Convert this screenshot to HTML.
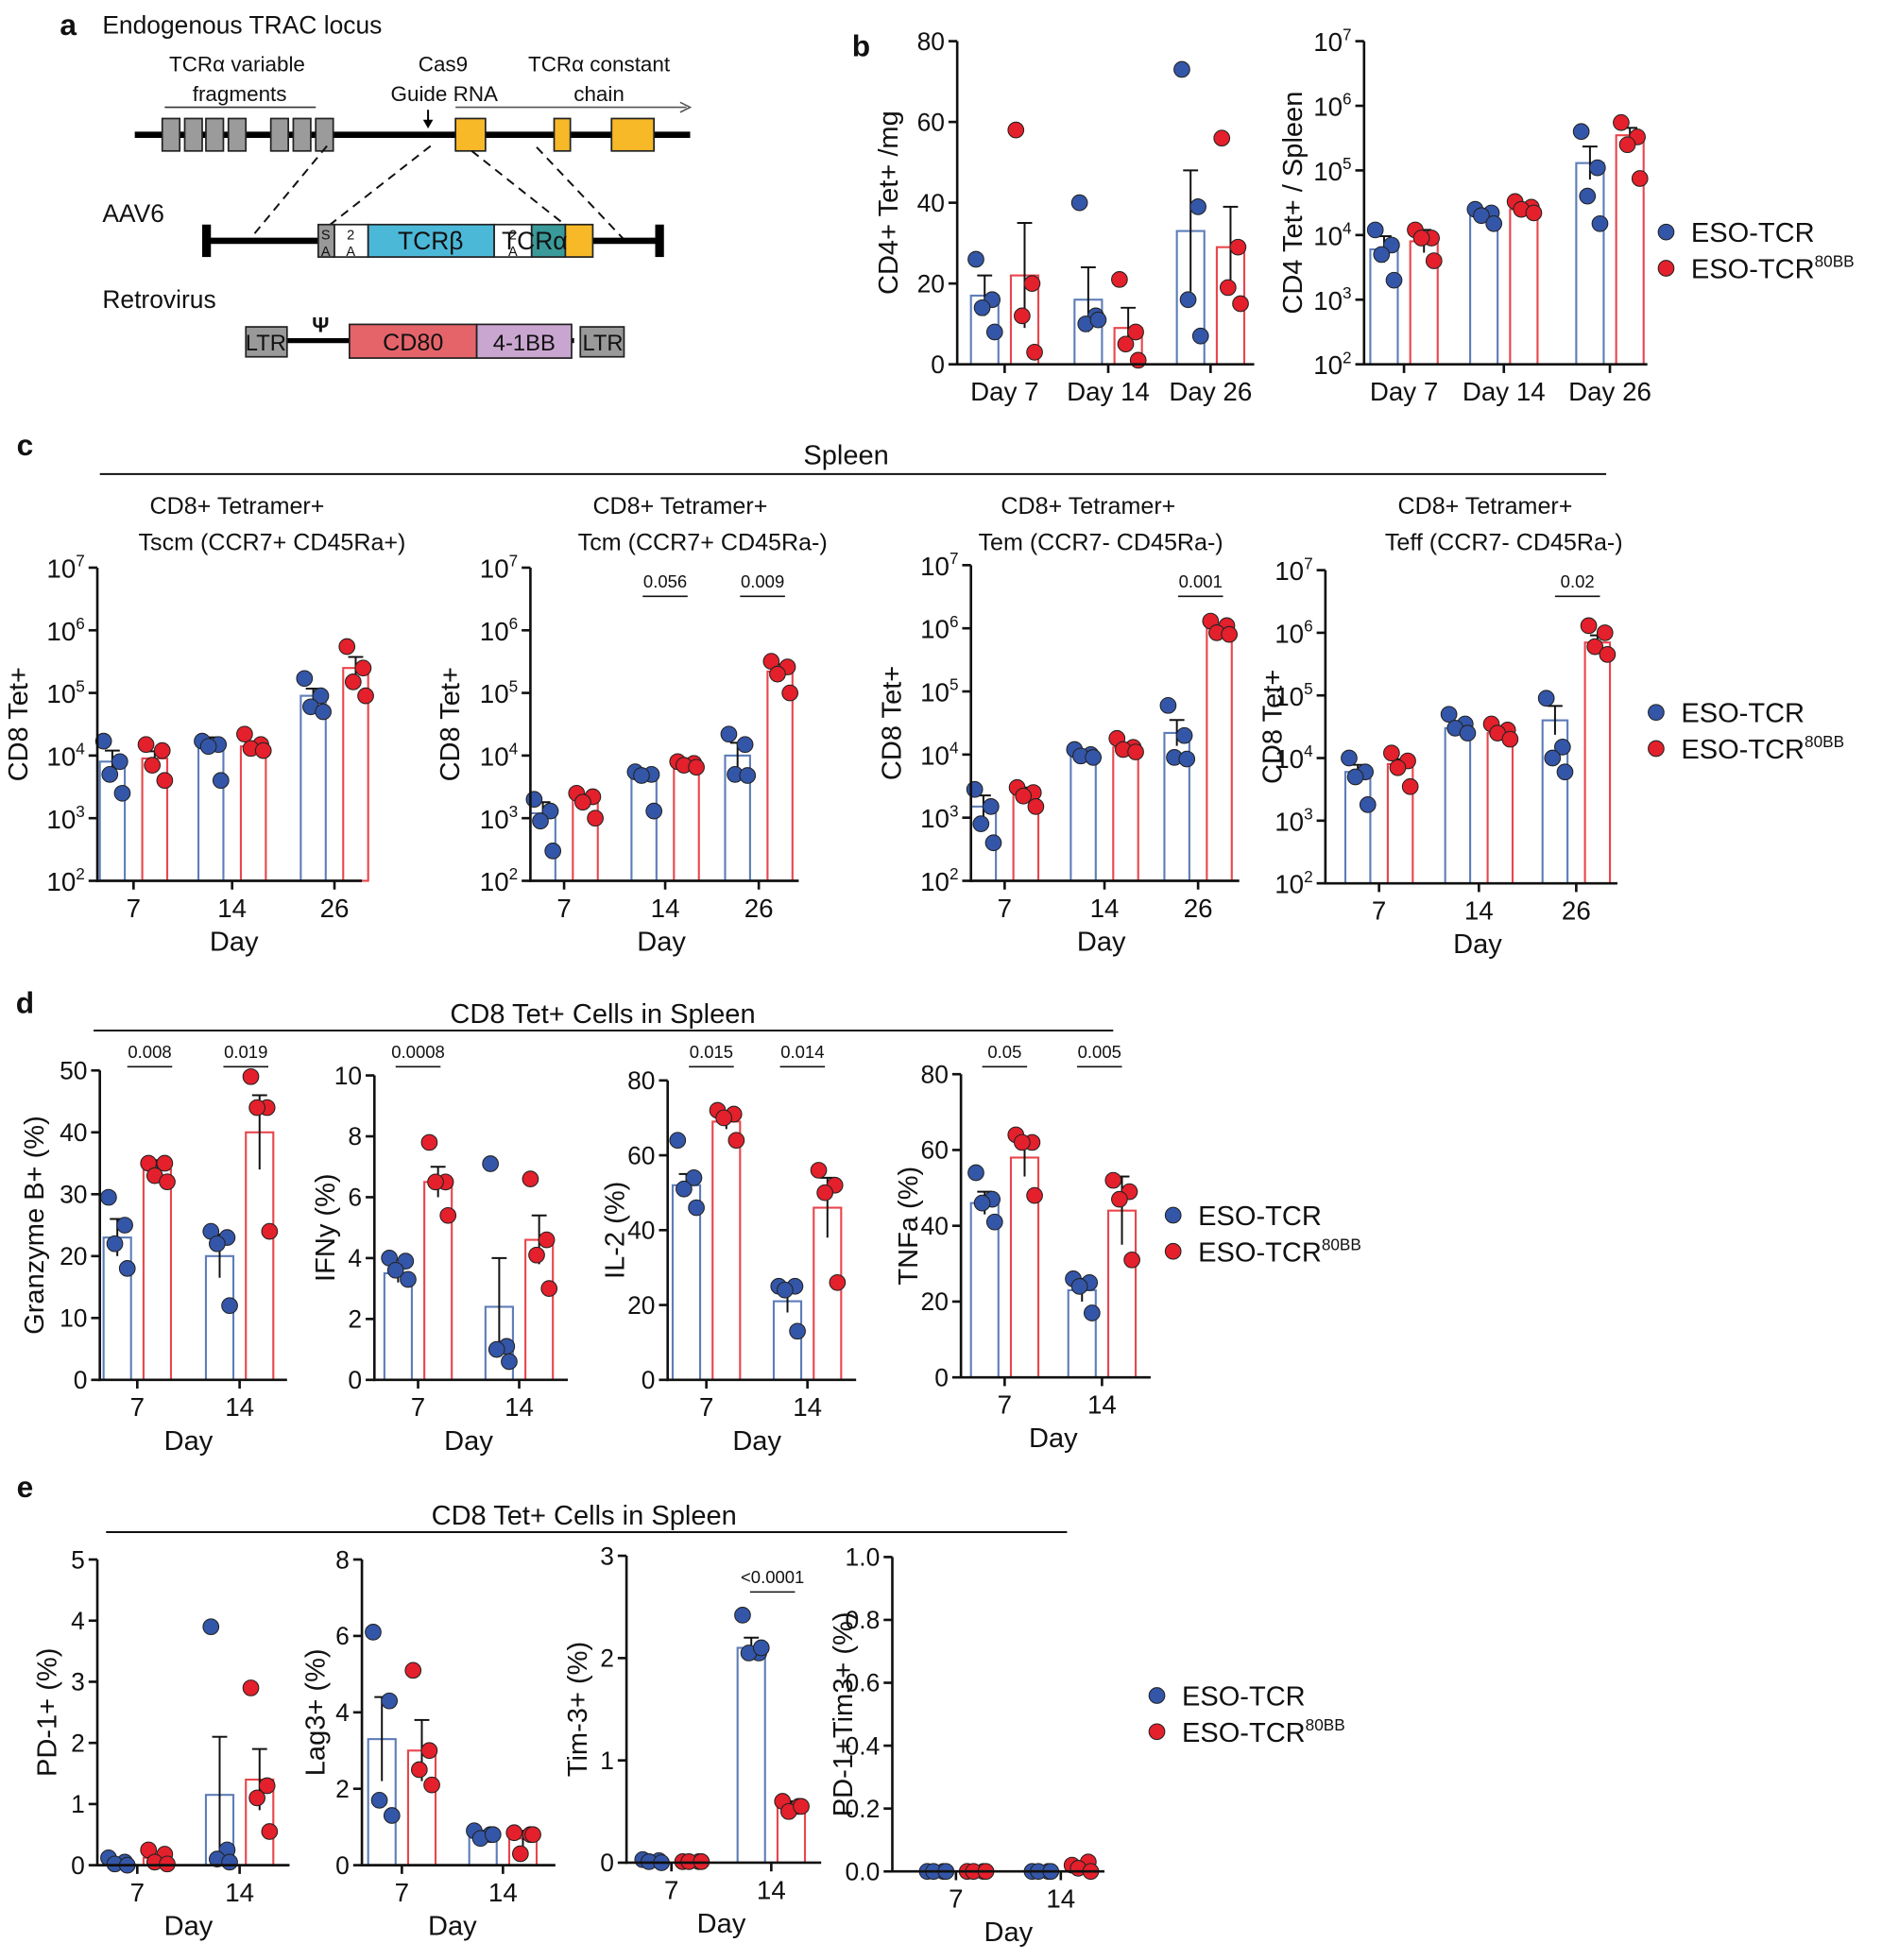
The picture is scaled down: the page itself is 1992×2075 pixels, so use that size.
<!DOCTYPE html>
<html><head><meta charset="utf-8"><style>
html,body{margin:0;padding:0;background:#fff}
svg{display:block}
text{font-family:"Liberation Sans",sans-serif;fill:#111}
</style></head><body>
<svg id="s" xmlns="http://www.w3.org/2000/svg" width="1992" height="2075" viewBox="0 0 1508 1571" preserveAspectRatio="none">
<g id="a" stroke-linecap="butt">
<text x="48" y="28" font-size="24" font-weight="bold">a</text>
<text x="82" y="27" font-size="20">Endogenous TRAC locus</text>
<text x="190" y="57" font-size="17" text-anchor="middle">TCRα variable</text>
<text x="192" y="81" font-size="17" text-anchor="middle">fragments</text>
<line x1="132" y1="86" x2="253" y2="86" stroke="#333" stroke-width="1.2"/>
<text x="355" y="57" font-size="17" text-anchor="middle">Cas9</text>
<text x="356" y="81" font-size="17" text-anchor="middle">Guide RNA</text>
<text x="480" y="57" font-size="17" text-anchor="middle">TCRα constant</text>
<text x="480" y="81" font-size="17" text-anchor="middle">chain</text>
<line x1="365" y1="86" x2="550" y2="86" stroke="#555" stroke-width="1.2"/>
<path d="M545,82 L553,86 L545,90" fill="none" stroke="#555" stroke-width="1.2"/>
<line x1="343" y1="88" x2="343" y2="98" stroke="#000" stroke-width="1.5"/>
<path d="M339,96 L347,96 L343,103 Z" fill="#000"/>
<line x1="108" y1="108" x2="553" y2="108" stroke="#000" stroke-width="5"/>
<g fill="#9b9b9b" stroke="#222" stroke-width="1.3">
<rect x="130" y="95" width="14" height="26"/><rect x="148" y="95" width="14" height="26"/><rect x="165" y="95" width="14" height="26"/><rect x="183" y="95" width="14" height="26"/>
<rect x="217" y="95" width="14" height="26"/><rect x="235" y="95" width="14" height="26"/><rect x="253" y="95" width="14" height="26"/></g>
<g fill="#f7b928" stroke="#222" stroke-width="1.3">
<rect x="365" y="95" width="24" height="26"/><rect x="444" y="95" width="13" height="26"/><rect x="490" y="95" width="34" height="26"/></g>
<g stroke="#111" stroke-width="1.5" stroke-dasharray="7,5" fill="none">
<line x1="262" y1="117" x2="200" y2="192"/><line x1="345" y1="117" x2="262" y2="182"/>
<line x1="378" y1="121" x2="455" y2="182"/><line x1="430" y1="118" x2="500" y2="192"/></g>
<text x="82" y="178" font-size="20">AAV6</text>
<rect x="162" y="180" width="7" height="26" fill="#000"/><rect x="525" y="180" width="7" height="26" fill="#000"/>
<line x1="165" y1="193" x2="255" y2="193" stroke="#000" stroke-width="5"/>
<line x1="475" y1="193" x2="528" y2="193" stroke="#000" stroke-width="5"/>
<g stroke="#222" stroke-width="1.3">
<rect x="255" y="180" width="13" height="26" fill="#999"/>
<rect x="268" y="180" width="27" height="26" fill="#fff"/>
<rect x="295" y="180" width="101" height="26" fill="#4cb8d8"/>
<rect x="396" y="180" width="30" height="26" fill="#fff"/>
<rect x="426" y="180" width="27" height="26" fill="#3a9a9a"/>
<rect x="453" y="180" width="22" height="26" fill="#f7b928"/></g>
<text x="261" y="192" font-size="11" text-anchor="middle">S</text><text x="261" y="205" font-size="11" text-anchor="middle">A</text>
<text x="281" y="192" font-size="11" text-anchor="middle">2</text><text x="281" y="205" font-size="11" text-anchor="middle">A</text>
<text x="411" y="192" font-size="11" text-anchor="middle">2</text><text x="411" y="205" font-size="11" text-anchor="middle">A</text>
<text x="345" y="200" font-size="20" text-anchor="middle">TCRβ</text>
<text x="402" y="200" font-size="20">TCRα</text>
<text x="82" y="247" font-size="20">Retrovirus</text>
<text x="250" y="266" font-size="17" font-weight="bold">Ψ</text>
<line x1="230" y1="273" x2="460" y2="273" stroke="#000" stroke-width="4"/>
<g stroke="#222" stroke-width="1.3">
<rect x="197" y="262" width="33" height="24" fill="#999"/>
<rect x="280" y="260" width="102" height="27" fill="#e4646a"/>
<rect x="382" y="260" width="76" height="27" fill="#c9a6d0"/>
<rect x="465" y="262" width="35" height="24" fill="#999"/></g>
<text x="213" y="281" font-size="18" text-anchor="middle">LTR</text>
<text x="331" y="281" font-size="19" text-anchor="middle">CD80</text>
<text x="420" y="281" font-size="18" text-anchor="middle">4-1BB</text>
<text x="483" y="281" font-size="18" text-anchor="middle">LTR</text>
</g>
<g id="g"></g>
</svg>
<script>
const g=document.getElementById('g');
const B='#3456a8',R='#e3202b',BL='#5d7db8',RL='#e8464c';
let h='';
function T(x,y,s,sz,anc,extra){h+=`<text x="${x}" y="${y}" font-size="${sz}" text-anchor="${anc||'middle'}" ${extra||''}>${s}</text>`;}
function L(x1,y1,x2,y2,c,w){h+=`<line x1="${x1}" y1="${y1}" x2="${x2}" y2="${y2}" stroke="${c||'#111'}" stroke-width="${w||2}"/>`;}
function P(o){
 const map=v=>{ if(o.log){const lv=Math.log10(Math.max(v,1e-9));return o.yb-(lv-o.min)/(o.max-o.min)*(o.yb-o.yt);} return o.yb-(v-o.min)/(o.max-o.min)*(o.yb-o.yt);};
 const bw=o.bw||22, off=o.off||16;
 o.groups.forEach(gr=>{
  [['b',-off,B,BL],['r',off,R,RL]].forEach(([k,d,dc,lc])=>{
   const s=gr[k]; if(!s)return; const cx=gr.x+d; const yv=map(s.v);
   h+=`<rect x="${cx-bw/2}" y="${yv}" width="${bw}" height="${o.yb-yv}" fill="none" stroke="${lc}" stroke-width="1.6"/>`;
   if(s.e){const y1=map(o.log?s.v*s.e:s.v+s.e),y2=map(o.log?s.v/s.e:s.v-s.e);L(cx,y1,cx,Math.min(y2,o.yb),'#111',1.5);L(cx-6,y1,cx+6,y1,'#111',1.5);}
   s.d.forEach((dv,i)=>{const dx=s.dx?s.dx[i]:[-7,6,-2,8][i%4];h+=`<circle cx="${cx+dx}" cy="${map(dv)}" r="6.3" fill="${dc}" stroke="#222" stroke-width="0.8"/>`;});
  });
 });
 L(o.ax,o.yt,o.ax,o.yb+1,'#111',2); L(o.ax-1,o.yb,o.xe,o.yb,'#111',2);
 o.ticks.forEach(t=>{const y=map(t[0]);L(o.ax-7,y,o.ax,y,'#111',2);
   if(o.log){h+=`<text x="${o.ax-10}" y="${y+8}" font-size="21" text-anchor="end">10<tspan dy="-9" font-size="13">${t[1]}</tspan></text>`;}
   else T(o.ax-10,y+7,t[1],20,'end');});
 o.groups.forEach(gr=>{L(gr.x,o.yb,gr.x,o.yb+7,'#111',2);T(gr.x,o.yb+29,gr.l,21);});
 if(o.xl)T(o.xlx||(o.groups[0].x+o.groups[o.groups.length-1].x)/2,o.yb+56,o.xl,22);
 h+=`<text transform="translate(${o.ylx},${(o.yt+o.yb)/2}) rotate(-90)" font-size="22" text-anchor="middle">${o.yl}</text>`;
 (o.sig||[]).forEach(s=>{L(s[0]-18,s[1],s[0]+18,s[1],'#111',1.2);T(s[0],s[1]-7,s[2],14);});
}
function S(v,e,d){return {v:v,e:e,d:d};}
function leg(x,y,sz){h+=`<circle cx="${x}" cy="${y}" r="6.3" fill="${B}" stroke="#222" stroke-width="0.8"/><circle cx="${x}" cy="${y+29}" r="6.3" fill="${R}" stroke="#222" stroke-width="0.8"/>`;
 T(x+20,y+8,'ESO-TCR',sz,'start');h+=`<text x="${x+20}" y="${y+37}" font-size="${sz}">ESO-TCR<tspan dy="-9" font-size="13">80BB</tspan></text>`;}
const LT=[[1e2,2],[1e3,3],[1e4,4],[1e5,5],[1e6,6],[1e7,7]];
T(690,45,'b',24,'middle','font-weight="bold"');
P({ax:767,yt:33,yb:292,min:0,max:80,ticks:[[0,0],[20,20],[40,40],[60,60],[80,80]],xe:1005,ylx:719,yl:'CD4+ Tet+ /mg',
 groups:[{x:805,l:'Day 7',b:S(17,5,[26,16,14,8]),r:S(22,13,[58,20,12,3])},{x:888,l:'Day 14',b:S(16,8,[40,12,10,11]),r:S(9,5,[21,8,5,1])},{x:970,l:'Day 26',b:S(33,15,[73,39,16,7]),r:S(29,10,[56,29,19,15])}]});
P({ax:1093,yt:33,yb:292,min:2,max:7,log:1,ticks:LT,xe:1320,ylx:1043,yl:'CD4 Tet+ / Spleen',
 groups:[{x:1125,l:'Day 7',b:S(6e3,1.6,[12000,7000,5000,2000]),r:S(8000,1.5,[12000,9000,9000,4000])},{x:1205,l:'Day 14',b:S(2e4,1.2,[25000,22000,20000,15000]),r:S(2.5e4,1.2,[33000,27000,25000,22000])},{x:1290,l:'Day 26',b:S(1.3e5,1.8,[400000,110000,40000,15000]),r:S(3.5e5,1.3,[550000,330000,250000,75000])}]});
leg(1335,186,22);
T(20,365,'c',24,'middle','font-weight="bold"');T(678,372,'Spleen',22);L(80,380,1287,380,'#111',1.5);
const titles=[[190,'Tscm  (CCR7+ CD45Ra+)',218],[545,'Tcm  (CCR7+ CD45Ra-)',563],[872,'Tem  (CCR7- CD45Ra-)',882],[1190,'Teff  (CCR7- CD45Ra-)',1205]];
titles.forEach(t=>{T(t[0],412,'CD8+ Tetramer+',19);T(t[2],441,t[1],19);});
const cp=[
 {ax:78,yt:455,yb:706,xe:290,ylx:22,xs:[107,186,268],
  d:[[S(8000,1.5,[17000,8000,5000,2500]),S(9000,1.3,[15000,12000,7000,4000])],[S(15000,1.3,[17000,15000,14000,4000]),S(14000,1.2,[22000,15000,13000,12000])],[S(9e4,1.3,[170000,90000,60000,50000]),S(2.5e5,1.5,[550000,250000,150000,90000])]]},
 {ax:425,yt:455,yb:706,xe:640,ylx:368,xs:[452,533,608],sig:[[533,478,'0.056'],[611,478,'0.009']],
  d:[[S(1200,1.5,[2000,1300,900,300]),S(2000,1.2,[2500,2200,1800,1000])],[S(5000,1.2,[5500,5000,4800,1300]),S(7000,1.1,[8000,7500,7000,6500])],[S(1e4,1.6,[22000,15000,5000,4800]),S(2.2e5,1.3,[320000,260000,200000,100000])]]},
 {ax:778,yt:453,yb:706,xe:993,ylx:722,xs:[805,885,960],sig:[[962,478,'0.001']],
  d:[[S(1500,1.5,[2800,1500,800,400]),S(2500,1.2,[3000,2500,2200,1500])],[S(1e4,1.1,[12000,10000,9500,9000]),S(1.3e4,1.1,[18000,13000,12000,11000])],[S(2.2e4,1.6,[60000,20000,9000,8500]),S(1e6,1.1,[1300000,1100000,850000,800000])]]},
 {ax:1062,yt:457,yb:708,xe:1296,ylx:1027,xs:[1105,1185,1263],sig:[[1264,478,'0.02']],
  d:[[S(6000,1.3,[10000,6000,5000,1800]),S(8000,1.2,[12000,9000,7000,3500])],[S(3e4,1.2,[50000,35000,30000,25000]),S(2.5e4,1.2,[35000,28000,25000,20000])],[S(4e4,1.7,[90000,15000,10000,6000]),S(7e5,1.3,[1300000,1000000,600000,450000])]]}];
cp.forEach(c=>P({ax:c.ax,yt:c.yt,yb:c.yb,min:2,max:7,log:1,ticks:LT,xe:c.xe,ylx:c.ylx,yl:'CD8 Tet+',xl:'Day',sig:c.sig,bw:20,off:17,
 groups:c.xs.map((x,i)=>({x:x,l:['7','14','26'][i],b:c.d[i][0],r:c.d[i][1]}))}));
leg(1327,571,22);
T(20,812,'d',24,'middle','font-weight="bold"');T(483,820,'CD8 Tet+ Cells in Spleen',22);L(75,826,892,826,'#111',1.5);
P({ax:80,yt:858,yb:1106,min:0,max:50,ticks:[[0,0],[10,10],[20,20],[30,30],[40,40],[50,50]],xe:230,ylx:35,yl:'Granzyme B+ (%)',xl:'Day',sig:[[120,855,'0.008'],[197,855,'0.019']],
 groups:[{x:110,l:'7',b:S(23,3,[29.5,25,22,18]),r:S(34,1.5,[35,35,33,32])},{x:192,l:'14',b:S(20,3.5,[24,23,22,12]),r:S(40,6,[49,44,44,24])}]});
P({ax:300,yt:862,yb:1106,min:0,max:10,ticks:[[0,0],[2,2],[4,4],[6,6],[8,8],[10,10]],xe:455,ylx:268,yl:'IFNy (%)',xl:'Day',sig:[[335,855,'0.0008']],
 groups:[{x:335,l:'7',b:S(3.5,0.3,[4,3.9,3.6,3.3]),r:S(6.5,0.5,[7.8,6.5,6.5,5.4])},{x:416,l:'14',b:S(2.4,1.6,[7.1,1.1,1,0.6]),r:S(4.6,0.8,[6.6,4.6,4.1,3])}]});
P({ax:535,yt:866,yb:1106,min:0,max:80,ticks:[[0,0],[20,20],[40,40],[60,60],[80,80]],xe:686,ylx:500,yl:'IL-2 (%)',xl:'Day',sig:[[570,855,'0.015'],[643,855,'0.014']],
 groups:[{x:566,l:'7',b:S(52,3,[64,54,51,46]),r:S(69,2,[72,71,70,64])},{x:647,l:'14',b:S(21,3,[25,25,24,13]),r:S(46,8,[56,52,50,26])}]});
P({ax:770,yt:861,yb:1104,min:0,max:80,ticks:[[0,0],[20,20],[40,40],[60,60],[80,80]],xe:922,ylx:735,yl:'TNFa (%)',xl:'Day',sig:[[805,855,'0.05'],[881,855,'0.005']],
 groups:[{x:805,l:'7',b:S(46,3,[54,47,46,41]),r:S(58,5,[64,62,62,48])},{x:883,l:'14',b:S(23,3,[26,25,24,17]),r:S(44,9,[52,49,47,31])}]});
leg(940,974,22);
T(20,1200,'e',24,'middle','font-weight="bold"');T(468,1222,'CD8 Tet+ Cells in Spleen',22);L(85,1228,855,1228,'#111',1.5);
P({ax:78,yt:1250,yb:1495,min:0,max:5,ticks:[[0,0],[1,1],[2,2],[3,3],[4,4],[5,5]],xe:232,ylx:45,yl:'PD-1+ (%)',xl:'Day',
 groups:[{x:110,l:'7',b:S(0.05,0.02,[0.12,0.05,0.02,0]),r:S(0.12,0.05,[0.25,0.18,0.05,0.02])},{x:192,l:'14',b:S(1.15,0.95,[3.9,0.25,0.1,0.05]),r:S(1.4,0.5,[2.9,1.3,1.1,0.55])}]});
P({ax:290,yt:1250,yb:1495,min:0,max:8,ticks:[[0,0],[2,2],[4,4],[6,6],[8,8]],xe:445,ylx:260,yl:'Lag3+ (%)',xl:'Day',
 groups:[{x:322,l:'7',b:S(3.3,1.1,[6.1,4.3,1.7,1.3]),r:S(3,0.8,[5.1,3,2.5,2.1])},{x:403,l:'14',b:S(0.8,0.1,[0.9,0.8,0.7,0.8]),r:S(0.7,0.2,[0.85,0.8,0.3,0.8])}]});
P({ax:502,yt:1247,yb:1493,min:0,max:3,ticks:[[0,0],[1,1],[2,2],[3,3]],xe:658,ylx:470,yl:'Tim-3+ (%)',xl:'Day',sig:[[619,1276,'&lt;0.0001']],
 groups:[{x:538,l:'7',b:S(0.02,0,[0.03,0.02,0.01,0]),r:S(0.01,0,[0.01,0.01,0.01,0.01])},{x:618,l:'14',b:S(2.1,0.1,[2.42,2.05,2.05,2.1]),r:S(0.55,0.05,[0.6,0.55,0.5,0.55])}]});
P({ax:715,yt:1248,yb:1500,min:0,max:1,ticks:[[0,'0.0'],[0.2,'0.2'],[0.4,'0.4'],[0.6,'0.6'],[0.8,'0.8'],[1,'1.0']],xe:885,ylx:683,yl:'PD-1+Tim3+ (%)',xl:'Day',
 groups:[{x:766,l:'7',b:S(0,0,[0,0,0,0]),r:S(0,0,[0,0,0,0])},{x:850,l:'14',b:S(0,0,[0,0,0,0]),r:S(0.01,0.005,[0.02,0.03,0.01,0])}]});
leg(927,1359,22);
g.innerHTML=h;
</script>
</body></html>
